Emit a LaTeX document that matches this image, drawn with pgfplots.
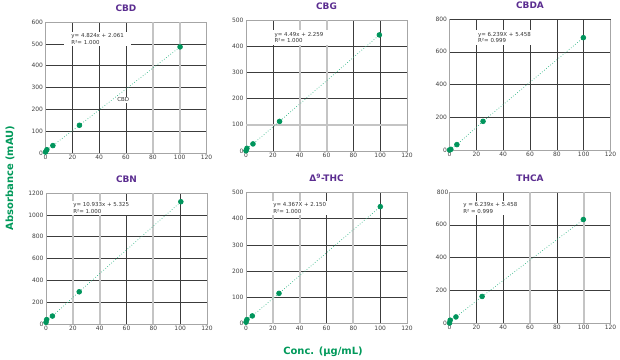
\documentclass[border=0pt]{standalone}
\usepackage{pgfplots}
\pgfplotsset{compat=1.18}
\usepackage{fontspec}
\setmainfont{DejaVu Sans}
\definecolor{ttl}{HTML}{5B2D90}
\definecolor{grn}{HTML}{00995A}
\definecolor{pt}{HTML}{00955C}
\definecolor{ln}{HTML}{2FB584}
\definecolor{gridd}{HTML}{3C3C3C}
\definecolor{gridl}{HTML}{C4C4C4}
\tikzset{eq/.style={fill=white, anchor=north west, align=left, font=\fontsize{5.5}{6.5}\selectfont, inner xsep=7bp, inner ysep=2bp, text=black!80}}
\pgfplotsset{
 panel/.style={scale only axis, width=161bp, height=131bp, xmin=0, xmax=120, ymin=0,
   xtick={0,20,40,60,80,100,120}, grid=major, grid style={gridd, line width=0.5pt},
   axis line style={draw=gray!70, line width=0.7pt}, tick style={draw=none},
   tick label style={font=\fontsize{6}{7}\selectfont, text=black!75},
   /pgf/number format/assume math mode=true, /pgf/number format/1000 sep={}, clip=false,
   title style={font=\fontsize{9}{10}\selectfont\bfseries, text=ttl, yshift=1pt},
   anchor=south west, xticklabel style={yshift=1pt}, yticklabel style={xshift=1pt}},
 ser/.style={ln, dotted, line width=0.7pt, mark=*, mark size=2.4pt, mark options={solid, fill=pt, draw=pt}},
 lg/.style={extra x tick style={grid=major, grid style={gridl, line width=2pt}}, extra x tick labels={}},
}
\begin{document}
\begin{tikzpicture}
\useasboundingbox (0,0) rectangle (620bp,360bp);
% CBD
\begin{axis}[panel, at={(45.5bp,207bp)}, title={CBD}, ymax=600, ytick={0,100,200,300,400,500,600}, lg, extra x ticks={80,100}]
\addplot[ser] coordinates {(0,4.5) (1,15) (5.5,34) (25.3,127) (100.3,486)};
\node[eq] at (axis cs:14,556) {y= 4.824x + 2.061\\R²= 1.000};
\node[fill=white, inner sep=1pt, font=\fontsize{5.5}{6.5}\selectfont, text=black!80] at (axis cs:58,244) {CBD};
\end{axis}
% CBG
\begin{axis}[panel, at={(246bp,209bp)}, title={CBG}, ymax=500, ytick={0,100,200,300,400,500}, lg, extra x ticks={40,60}, extra y ticks={100}, extra y tick labels={}, extra y tick style={grid=major, grid style={gridl, line width=2pt}}]
\addplot[ser] coordinates {(0,1) (0.7,10) (5.2,27) (25,113) (99.4,443)};
\node[eq] at (axis cs:16,462) {y= 4.49x + 2.259\\R²= 1.000};
\end{axis}
% CBDA
\begin{axis}[panel, at={(449.5bp,210bp)}, title={CBDA}, ymax=800, ytick={0,200,400,600}, extra y ticks={800}, extra y tick labels={800}]
\addplot[ser] coordinates {(0,0) (1,4) (5.5,33) (25,175) (99.75,686)};
\node[eq] at (axis cs:16,733) {y= 6.239X + 5.458\\R²= 0.999};
\end{axis}
% CBN
\begin{axis}[panel, at={(46bp,36bp)}, title={CBN}, ymax=1200, ytick={0,200,400,600,800,1000,1200}, lg, extra x ticks={20,40,80}]
\addplot[ser] coordinates {(0,15) (0.5,40) (4.8,73) (24.75,295) (100.5,1120)};
\node[eq] at (axis cs:15,1133) {y= 10.933x + 5.325\\R²= 1.000};
\end{axis}
% THC
\begin{axis}[panel, at={(246bp,36.5bp)}, title={Δ\textsuperscript{9}-THC}, ymax=500, ytick={0,100,200,300,400,500}, lg, extra x ticks={20,40,80}]
\addplot[ser] coordinates {(0,5) (0.7,15) (4.7,29) (24.6,115) (100.1,446)};
\node[eq] at (axis cs:15,470) {y= 4.367X + 2.150\\R²= 1.000};
\end{axis}
% THCA
\begin{axis}[panel, at={(449.5bp,37bp)}, title={THCA}, ymax=800, ytick={0,200,400,600}, lg, extra x ticks={60,100}]
\addplot[ser] coordinates {(0,0) (0.5,17) (4.8,37) (24.3,162) (99.75,632)};
\node[eq] at (axis cs:5,748) {y = 6.239x + 5.458\\R² = 0.999};
\node[anchor=east, font=\fontsize{6}{7}\selectfont, text=black!75, inner sep=2pt, xshift=1pt] at (rel axis cs:0,1) {800};
\end{axis}
\node[rotate=90, font=\fontsize{10}{12}\selectfont\bfseries, text=grn] at (10bp,182bp) {Absorbance (mAU)};
\node[font=\fontsize{10}{12}\selectfont\bfseries, text=grn] at (323bp,8.5bp) {Conc. (µg/mL)};
\end{tikzpicture}
\end{document}
